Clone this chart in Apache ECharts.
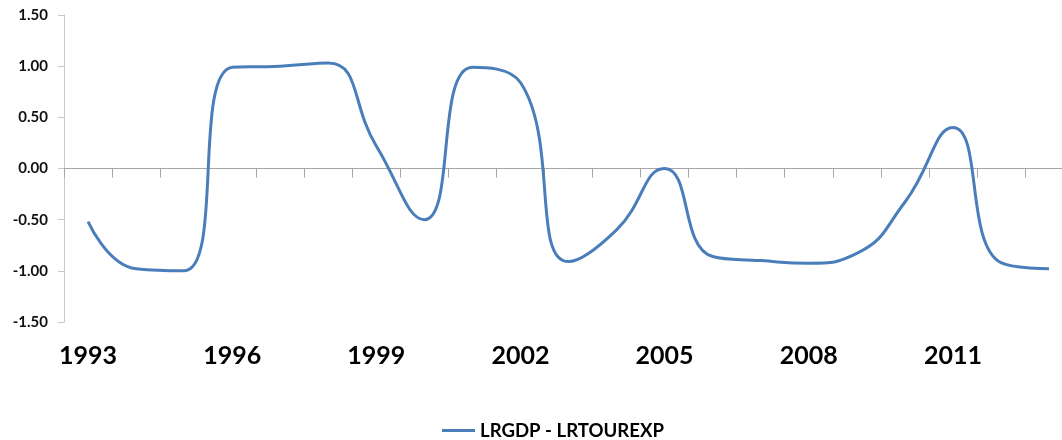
<!DOCTYPE html>
<html>
<head>
<meta charset="utf-8">
<script src="https://cdn.jsdelivr.net/npm/echarts@6/dist/echarts.min.js"></script>
<style>
  html, body { margin: 0; padding: 0; background: #fff; }
  #chart { width: 1062px; height: 440px; }
</style>
</head>
<body>
<div id="chart"></div>
<script>
// Years on the category axis (label shown every third year)
const years = ['1993', '1994', '1995', '1996', '1997', '1998', '1999', '2000', '2001', '2002',
  '2003', '2004', '2005', '2006', '2007', '2008', '2009', '2010', '2011', '2012', '2013'];

// LRGDP - LRTOUREXP
const gapValues = [-0.52, -0.98, -1.00, 0.99, 1.00, 1.03, 0.22, -0.50, 0.99, 0.84,
  -0.91, -0.60, 0.00, -0.86, -0.90, -0.925, -0.83, -0.33, 0.40, -0.92, -0.98];

const seriesName = 'LRGDP - LRTOUREXP';
const lineColor = '#4a7ebb';
const fontFamily = 'Lato, "Liberation Sans", sans-serif';

const chart = echarts.init(document.getElementById('chart'));

chart.setOption({
  animation: false,
  backgroundColor: '#ffffff',
  grid: {
    left: 64,
    right: -11,   // the original is cropped on the right edge
    top: 15,
    bottom: 118,
    containLabel: false,
    // keep the grid exactly where it is set, even though labels sit outside it
    outerBoundsMode: 'none',
  },
  legend: {
    data: [seriesName],
    top: 416,
    left: 437,    // the original legend sits a bit right of centre
    icon: 'rect',
    itemWidth: 33,
    itemHeight: 3,
    itemGap: 4,
    textStyle: {
      fontFamily,
      fontSize: 18.6,
      fontWeight: 'bold',
      color: '#000',
    },
  },
  xAxis: {
    type: 'category',
    data: years,
    boundaryGap: true,
    axisLine: {
      onZero: true,
      lineStyle: { color: '#a6a6a6', width: 1 },
    },
    axisTick: {
      show: true,
      length: 9,
      interval: 0,
      lineStyle: { color: '#a6a6a6' },
    },
    // the line sits on zero, the labels stay below the plot bottom
    axisLabel: {
      interval: 2,
      margin: 21,
      fontFamily,
      fontSize: 25,
      fontWeight: 'bold',
      color: '#000',
    },
    splitLine: { show: false },
  },
  yAxis: {
    type: 'value',
    min: -1.5,
    max: 1.5,
    interval: 0.5,
    axisLine: {
      show: true,
      lineStyle: { color: '#c8c8c8', width: 1 },
    },
    axisTick: {
      show: true,
      length: 6,
      lineStyle: { color: '#c8c8c8' },
    },
    axisLabel: {
      margin: 16,
      fontFamily,
      fontSize: 15,
      fontWeight: 'bold',
      color: '#111',
      formatter: (v) => v.toFixed(2),
    },
    splitLine: { show: false },
  },
  series: [
    {
      name: seriesName,
      type: 'line',
      data: gapValues,
      smooth: 0.5,
      symbol: 'none',
      lineStyle: { color: lineColor, width: 3 },
      itemStyle: { color: lineColor },
    },
  ],
});
</script>
</body>
</html>
